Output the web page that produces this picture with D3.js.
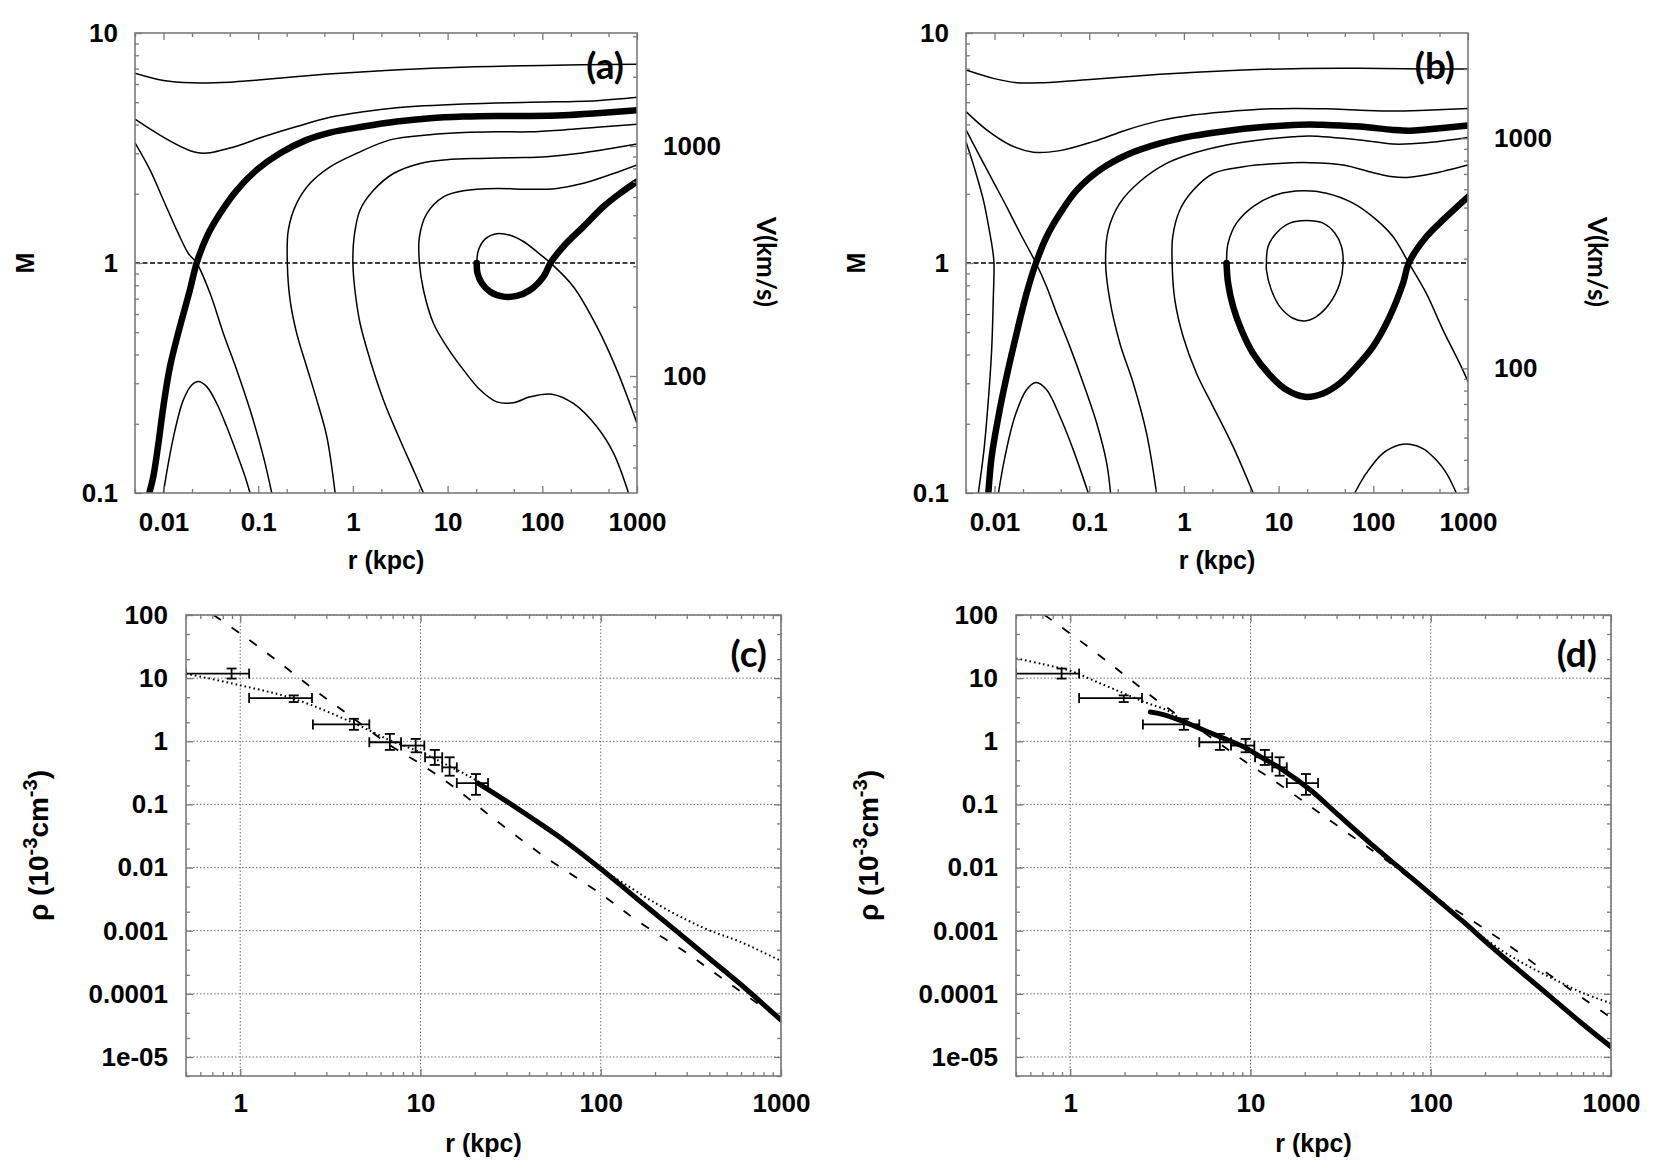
<!DOCTYPE html>
<html>
<head>
<meta charset="utf-8">
<script src="https://cdn.jsdelivr.net/npm/d3@7"></script>
<style>
  body { margin: 0; background: #fff; }
  svg { display: block; }
</style>
</head>
<body>
<svg id="fig" width="1662" height="1163"></svg>
<script>
// ---------- data: [r (kpc), M] ----------
// panel (a)
var aTop = [[0.005,6.68],[0.01,6.21],[0.02,6.07],[0.05,6.11],[0.1,6.25],[0.5,6.61],[2,6.86],[10,7.07],[100,7.23],[1000,7.31]];
var aSecond = [[0.005,4.22],[0.0224,3.02],[0.0504,3.16],[0.1135,3.54],[0.255,3.92],[0.574,4.30],[1.29,4.55],[2.9,4.73],[14.7,4.91],[74.3,5.0],[377,5.08],[1000,5.25]];
var aThickInner = [[0.00708,0.1],[0.00781,0.118],[0.00883,0.164],[0.00996,0.237],[0.0117,0.354],[0.0149,0.529],[0.019,0.763],[0.0224,1],[0.0286,1.30],[0.0395,1.64],[0.0593,2.07],[0.0964,2.54],[0.170,3.0],[0.325,3.43],[0.574,3.69],[1.29,3.92],[2.9,4.12],[6.53,4.26],[14.7,4.33],[33,4.36],[74.3,4.36],[167,4.39],[377,4.48],[1000,4.62]];
var aSepInner = [[0.005,3.33],[0.0072,2.54],[0.00996,1.88],[0.0138,1.39],[0.0183,1.10],[0.0224,1],[0.031,0.738],[0.0429,0.494],[0.0593,0.343],[0.082,0.230],[0.1135,0.144],[0.139,0.1]];
var aArch = [[0.00996,0.1],[0.01125,0.135],[0.01324,0.188],[0.0162,0.254],[0.0199,0.295],[0.0233,0.305],[0.0286,0.290],[0.0365,0.245],[0.0465,0.194],[0.0593,0.149],[0.0726,0.118],[0.082,0.1]];
var aMid1 = [[0.649,0.1],[0.53,0.176],[0.415,0.254],[0.325,0.354],[0.255,0.494],[0.217,0.691],[0.203,1],[0.208,1.39],[0.255,1.82],[0.353,2.22],[0.574,2.62],[1.10,3.0],[2.47,3.43],[6.53,3.61],[14.7,3.69],[33,3.72],[74.3,3.72],[167,3.79],[377,3.89],[1000,4.01]];
var aMid2 = [[5.56,0.1],[4.35,0.126],[3.15,0.170],[2.10,0.254],[1.52,0.379],[1.19,0.547],[1.05,0.763],[1.0,1],[1.03,1.30],[1.19,1.70],[1.65,2.07],[2.68,2.45],[5.12,2.71],[9.8,2.81],[22,2.85],[49.6,2.87],[111,2.90],[251,3.0],[565,3.16],[1000,3.29]];
var aWavy = [[813,0.1],[565,0.149],[377,0.194],[213,0.245],[126,0.269],[74.3,0.262],[49.6,0.247],[33,0.249],[22,0.281],[14.7,0.343],[9.8,0.433],[7.08,0.547],[5.56,0.763],[5.04,1],[5.04,1.30],[6.03,1.64],[9.04,1.94],[14.7,2.06],[33,2.11],[74.3,2.09],[142,2.11],[272,2.22],[565,2.45],[1000,2.67]];
var aSepOuter = [[20.3,1],[21.2,1.14],[24.9,1.27],[33,1.34],[45.7,1.32],[63.2,1.24],[87.4,1.12],[122,1],[213,0.789],[377,0.529],[612,0.343],[1000,0.201]];
var aThickOuter = [[20.3,1],[20.7,0.902],[23,0.816],[28.1,0.750],[38.9,0.714],[53.8,0.719],[74.3,0.763],[103,0.873],[122,1],[167,1.18],[272,1.44],[443,1.76],[664,2.01],[1000,2.26]];

// panel (b)
var bTop = [[0.005,6.90],[0.0097,6.35],[0.0171,6.08],[0.0328,6.08],[0.110,6.29],[0.557,6.61],[2.82,6.86],[14.2,7.0],[71.9,7.02],[363,6.97],[1000,6.97]];
var bSecond = [[0.005,4.55],[0.00827,3.79],[0.0146,3.26],[0.0257,3.03],[0.0491,3.08],[0.110,3.37],[0.248,3.79],[0.557,4.16],[1.25,4.40],[2.82,4.55],[6.33,4.66],[14.2,4.70],[32,4.68],[71.9,4.62],[162,4.58],[363,4.62],[1000,4.70]];
var bThickInner = [[0.00861,0.1],[0.00933,0.144],[0.011,0.215],[0.0134,0.32],[0.0171,0.494],[0.0218,0.738],[0.0274,1],[0.0355,1.30],[0.0491,1.64],[0.0736,2.07],[0.130,2.54],[0.248,2.95],[0.557,3.31],[1.25,3.57],[2.82,3.75],[6.33,3.89],[14.2,3.98],[21.3,4.0],[32,3.98],[71.9,3.92],[162,3.79],[242,3.76],[363,3.81],[1000,3.96]];
var bSepInner = [[0.005,3.79],[0.00703,2.90],[0.0097,2.26],[0.0134,1.76],[0.0186,1.35],[0.0237,1.12],[0.0274,1],[0.0355,0.789],[0.0453,0.604],[0.0625,0.433],[0.0865,0.3],[0.120,0.201],[0.153,0.135],[0.168,0.1]];
var bFarLeft = [[0.005,3.37],[0.00622,2.54],[0.00762,1.88],[0.00881,1.39],[0.00955,1.14],[0.00987,1],[0.0097,0.691],[0.00933,0.419],[0.00861,0.254],[0.00774,0.154],[0.00675,0.1]];
var bArch = [[0.011,0.1],[0.0129,0.144],[0.0164,0.215],[0.0218,0.281],[0.0274,0.302],[0.0355,0.281],[0.0491,0.215],[0.0679,0.154],[0.0977,0.1]];
var bMid1 = [[0.514,0.1],[0.403,0.182],[0.292,0.3],[0.211,0.447],[0.165,0.691],[0.149,1],[0.159,1.39],[0.211,1.82],[0.343,2.26],[0.655,2.71],[1.25,3.0],[2.82,3.26],[6.33,3.43],[14.2,3.54],[21.3,3.57],[71.9,3.43],[162,3.29],[363,3.33],[1000,3.51]];
var bMid2 = [[5.38,0.1],[3.31,0.159],[2.04,0.237],[1.36,0.331],[0.982,0.478],[0.802,0.691],[0.751,1],[0.762,1.30],[0.906,1.70],[1.25,2.07],[2.04,2.45],[4.22,2.62],[10.0,2.71],[21.3,2.73],[48,2.67],[108,2.45],[162,2.37],[242,2.36],[427,2.45],[1000,2.67]];
var bSepOuter = [[2.82,1],[2.93,1.22],[3.59,1.49],[5.38,1.76],[9.48,1.98],[18.2,2.06],[32,2.01],[61.1,1.82],[108,1.54],[162,1.30],[237,1],[363,0.738],[545,0.511],[817,0.366],[1000,0.305]];
var bOval = [[7.44,1],[7.74,1.18],[9.48,1.35],[13.1,1.49],[19.7,1.53],[29.5,1.49],[39.2,1.35],[46.1,1.18],[48,1],[44.3,0.816],[34.7,0.668],[25.1,0.585],[18.9,0.560],[14.2,0.575],[10.3,0.646],[8.39,0.763],[7.44,0.932],[7.44,1]];
var bThickOuter = [[2.82,1],[2.93,0.816],[3.31,0.646],[4.05,0.511],[5.38,0.404],[8.07,0.326],[12.1,0.281],[18.9,0.262],[29.5,0.271],[44.3,0.3],[66.2,0.354],[99.3,0.433],[149,0.585],[206,0.816],[237,1],[363,1.30],[545,1.54],[1000,1.94]];
var bArchRight = [[63.7,0.1],[84.5,0.122],[127,0.149],[190,0.162],[242,0.163],[335,0.156],[463,0.139],[591,0.122],[753,0.1]];

// sound speed that links the M axis to the V axis (km/s)
var soundSpeedA = 310, soundSpeedB = 287;

// ---------- data: [r (kpc), rho (1e-3 cm^-3)] ----------
var cDashed = [[0.71,100],[1,51],[1.54,20.5],[2.53,6.8],[4.15,2.42],[6.81,0.855],[10,0.438],[15.4,0.186],[25,0.062],[46.4,0.0165],[100,0.00383],[161,0.00141],[299,0.000445],[491,0.000162],[1000,3.84e-5]];
var cDotted = [[0.5,11.8],[1,7.7],[1.98,4.72],[4.15,2.01],[6.81,1.03],[10,0.67],[14.3,0.411],[20.8,0.232],[34,0.0893],[63.2,0.0264],[100,0.00957],[133,0.00573],[193,0.00293],[297,0.0015],[405,0.001],[588,0.000676],[1000,0.000333]];
var cSolid = [[20.8,0.218],[28.3,0.125],[41,0.062],[63.2,0.0264],[100,0.00957],[161,0.00311],[264,0.000976],[407,0.00035],[628,0.000125],[1000,3.84e-5]];

var dDashed = [[0.72,100],[1.23,32.8],[2.05,10.6],[3.24,3.85],[5.55,1.36],[9.03,0.509],[15.1,0.191],[25.1,0.0676],[41.9,0.0239],[55.5,0.0137],[100,0.0038],[176,0.00135],[293,0.0005],[501,0.000165],[1000,4.2e-5]];
var dDotted = [[0.5,20.6],[0.699,16.7],[1,13.1],[1.36,9.07],[1.94,5.9],[2.64,4.09],[3.41,3.13],[4.19,2.2],[6.99,1.15],[11.7,0.56],[21.5,0.172],[46.4,0.0243],[100,0.0039],[167,0.00112],[215,0.000644],[278,0.000394],[378,0.000242],[514,0.000157],[699,0.000103],[1000,7.1e-5]];
var dSolid = [[2.78,2.9],[3.24,2.67],[4.19,2.08],[5.41,1.53],[6.99,1.13],[9.03,0.832],[11.7,0.542],[15.1,0.353],[21.5,0.169],[30.8,0.0676],[46.4,0.0239],[69.9,0.00896],[100,0.0038],[151,0.0014],[215,0.00057],[308,0.000238],[464,8.9e-5],[699,3.3e-5],[1000,1.45e-5]];

// observed density profile with error bars
var obsR     = [0.895, 1.98, 4.27, 6.76, 9.4, 12.0, 14.5, 20.3];
var obsRLow  = [0.5, 1.12, 2.53, 5.2, 7.8, 10.6, 13.2, 15.9];
var obsRHigh = [1.12, 2.5, 5.2, 7.8, 10.5, 13.2, 15.9, 23.7];
var obsRho     = [11.8, 4.84, 1.85, 0.966, 0.855, 0.558, 0.386, 0.218];
var obsRhoLow  = [9.84, 4.18, 1.52, 0.73, 0.67, 0.422, 0.285, 0.142];
var obsRhoHigh = [14.2, 5.33, 2.27, 1.31, 1.09, 0.73, 0.558, 0.303];

// tick labels
var rTicksTop = [0.01, 0.1, 1, 10, 100, 1000];
var rLabelsTop = ["0.01", "0.1", "1", "10", "100", "1000"];
var mTicks = [0.1, 1, 10];
var mLabels = ["0.1", "1", "10"];
var vTicks = [100, 1000];
var vLabels = ["100", "1000"];
var rTicksBottom = [1, 10, 100, 1000];
var rLabelsBottom = ["1", "10", "100", "1000"];
var rhoTicks = [1e-5, 1e-4, 1e-3, 0.01, 0.1, 1, 10, 100];
var rhoLabels = ["1e-05", "0.0001", "0.001", "0.01", "0.1", "1", "10", "100"];

// ---------- drawing ----------
var svg = d3.select("#fig");
var frameColor = "#7a7a7a";
var tickFont = "'Liberation Sans', Arial, sans-serif";
var tagFont = "Lato, 'Open Sans', sans-serif";

svg.append("rect").attr("width", 1662).attr("height", 1163).attr("fill", "#fff");

function mantissa(v) {
    return Math.round(v / Math.pow(10, Math.floor(Math.log10(v) + 1e-9)));
}

function makePanel(id, box, xDomain, yDomain) {
    var x = d3.scaleLog().domain(xDomain).range([box.x0, box.x1]);
    var y = d3.scaleLog().domain(yDomain).range([box.y1, box.y0]);
    var root = svg.append("g");
    svg.append("clipPath").attr("id", "clip-" + id)
        .append("rect")
        .attr("x", box.x0).attr("y", box.y0)
        .attr("width", box.x1 - box.x0).attr("height", box.y1 - box.y0);
    var under = root.append("g");
    var plot = root.append("g").attr("clip-path", "url(#clip-" + id + ")");
    return {x: x, y: y, root: root, under: under, plot: plot, box: box};
}

function styleAxis(g) {
    g.select(".domain").remove();
    g.selectAll(".tick line").attr("stroke", frameColor).attr("stroke-width", 1.3);
    g.selectAll(".tick text").attr("fill", "#000");
    g.attr("font-family", tickFont).attr("font-size", 26).attr("font-weight", "bold");
}

function tickAxis(p, axisFn, scale, values, labels, size, pad, pos) {
    var ax = axisFn(scale).tickValues(values).tickSize(-size).tickPadding(pad)
        .tickFormat(labels ? function (d, i) { return labels[i]; } : "");
    var g = p.root.append("g").attr("transform", pos).call(ax);
    styleAxis(g);
    return g;
}

function frame(p) {
    var b = p.box;
    p.root.append("rect")
        .attr("x", b.x0).attr("y", b.y0)
        .attr("width", b.x1 - b.x0).attr("height", b.y1 - b.y0)
        .attr("fill", "none").attr("stroke", frameColor).attr("stroke-width", 1.6);
}

function drawCurve(p, pts, w, dash, cap) {
    var line = d3.line()
        .x(function (d) { return p.x(d[0]); })
        .y(function (d) { return p.y(d[1]); })
        .curve(d3.curveCatmullRom.alpha(0.5));
    p.plot.append("path").datum(pts)
        .attr("d", line)
        .attr("fill", "none")
        .attr("stroke", "#000")
        .attr("stroke-width", w)
        .attr("stroke-dasharray", dash || null)
        .attr("stroke-linecap", cap || "butt")
        .attr("stroke-linejoin", "round");
}

function tag(p, text, dx, dy) {
    p.root.append("text")
        .attr("x", p.box.x1 - dx).attr("y", p.box.y0 + dy)
        .attr("text-anchor", "end")
        .attr("font-family", tagFont).attr("font-size", 37).attr("font-weight", "bold")
        .text(text);
}

// ---- top panels: M vs r ----
function machPanel(id, box, cs, thin, thick, label) {
    var p = makePanel(id, box, [0.005, 1000], [0.1, 10]);
    var v = d3.scaleLog().domain([0.1 * cs, 10 * cs]).range([box.y1, box.y0]);
    var b = box;

    var xMinor = p.x.ticks().filter(function (d) { var m = mantissa(d); return m === 2 || m === 5; });
    var yMinor = p.y.ticks().filter(function (d) { return mantissa(d) !== 1; });
    var vMinor = v.ticks().filter(function (d) { return mantissa(d) !== 1; });

    tickAxis(p, d3.axisBottom, p.x, rTicksTop, rLabelsTop, 7, 20, "translate(0," + b.y1 + ")");
    tickAxis(p, d3.axisBottom, p.x, xMinor, null, 4, 0, "translate(0," + b.y1 + ")");
    tickAxis(p, d3.axisTop, p.x, rTicksTop, null, 7, 0, "translate(0," + b.y0 + ")");
    tickAxis(p, d3.axisTop, p.x, xMinor, null, 4, 0, "translate(0," + b.y0 + ")");
    tickAxis(p, d3.axisLeft, p.y, mTicks, mLabels, 7, 17, "translate(" + b.x0 + ",0)");
    tickAxis(p, d3.axisLeft, p.y, yMinor, null, 4, 0, "translate(" + b.x0 + ",0)");
    tickAxis(p, d3.axisRight, v, vTicks, vLabels, 7, 26, "translate(" + b.x1 + ",0)");
    tickAxis(p, d3.axisRight, v, vMinor, null, 4, 0, "translate(" + b.x1 + ",0)");

    // sonic line M = 1
    p.plot.append("line")
        .attr("x1", b.x0).attr("x2", b.x1)
        .attr("y1", p.y(1)).attr("y2", p.y(1))
        .attr("stroke", "#000").attr("stroke-width", 1.5).attr("stroke-dasharray", "5,2.5");

    thin.forEach(function (c) { drawCurve(p, c, 1.5); });
    thick.forEach(function (c) { drawCurve(p, c, 6.5, null, "round"); });
    frame(p);

    p.root.append("text")
        .attr("transform", "translate(" + (b.x0 - 110) + "," + ((b.y0 + b.y1) / 2) + ") rotate(-90)")
        .attr("text-anchor", "middle").attr("dy", "0.36em")
        .attr("font-family", tickFont).attr("font-size", 25).attr("font-weight", "bold")
        .text("M");
    p.root.append("text")
        .attr("transform", "translate(" + (b.x1 + 120) + "," + 262 + ") rotate(90)")
        .attr("text-anchor", "middle")
        .attr("font-family", tagFont).attr("font-size", 26).attr("font-weight", "bold")
        .text("V(km/s)");
    p.root.append("text")
        .attr("x", (b.x0 + b.x1) / 2).attr("y", b.y1 + 76)
        .attr("text-anchor", "middle")
        .attr("font-family", tickFont).attr("font-size", 25).attr("font-weight", "bold")
        .text("r (kpc)");
    tag(p, label, 13, 46);
}

machPanel("a", {x0: 135, x1: 637, y0: 33, y1: 493}, soundSpeedA,
    [aTop, aSecond, aSepInner, aArch, aMid1, aMid2, aWavy, aSepOuter],
    [aThickInner, aThickOuter], "(a)");
machPanel("b", {x0: 966, x1: 1468, y0: 33, y1: 493}, soundSpeedB,
    [bTop, bSecond, bSepInner, bFarLeft, bArch, bMid1, bMid2, bSepOuter, bOval, bArchRight],
    [bThickInner, bThickOuter], "(b)");

// ---- bottom panels: density vs r ----
function densityPanel(id, box, dashed, dotted, solid, label) {
    var p = makePanel(id, box, [0.5, 1000], [5e-6, 100]);
    var b = box;

    var xMinor = p.x.ticks().filter(function (d) { return mantissa(d) !== 1; });
    var yMinor = p.y.ticks().filter(function (d) { var m = mantissa(d); return m === 2 || m === 5; });

    // grid
    p.under.selectAll("line.gx").data(rTicksBottom).enter().append("line")
        .attr("x1", function (d) { return p.x(d); }).attr("x2", function (d) { return p.x(d); })
        .attr("y1", b.y0).attr("y2", b.y1)
        .attr("stroke", "#6d6d6d").attr("stroke-width", 1).attr("stroke-dasharray", "1.5,2");
    p.under.selectAll("line.gy").data(rhoTicks).enter().append("line")
        .attr("y1", function (d) { return p.y(d); }).attr("y2", function (d) { return p.y(d); })
        .attr("x1", b.x0).attr("x2", b.x1)
        .attr("stroke", "#6d6d6d").attr("stroke-width", 1).attr("stroke-dasharray", "1.5,2");

    tickAxis(p, d3.axisBottom, p.x, rTicksBottom, rLabelsBottom, 7, 18, "translate(0," + b.y1 + ")");
    tickAxis(p, d3.axisBottom, p.x, xMinor, null, 4, 0, "translate(0," + b.y1 + ")");
    tickAxis(p, d3.axisTop, p.x, rTicksBottom, null, 7, 0, "translate(0," + b.y0 + ")");
    tickAxis(p, d3.axisTop, p.x, xMinor, null, 4, 0, "translate(0," + b.y0 + ")");
    tickAxis(p, d3.axisLeft, p.y, rhoTicks, rhoLabels, 7, 18, "translate(" + b.x0 + ",0)");
    tickAxis(p, d3.axisLeft, p.y, yMinor, null, 4, 0, "translate(" + b.x0 + ",0)");
    tickAxis(p, d3.axisRight, p.y, rhoTicks, null, 7, 0, "translate(" + b.x1 + ",0)");
    tickAxis(p, d3.axisRight, p.y, yMinor, null, 4, 0, "translate(" + b.x1 + ",0)");

    drawCurve(p, dashed, 1.8, "9,13");
    drawCurve(p, dotted, 2, "1.6,3");
    drawCurve(p, solid, 5, null, "round");

    // error bars
    var cap = 5;
    var eb = p.plot.append("g").attr("stroke", "#000").attr("stroke-width", 1.8);
    obsR.forEach(function (r, i) {
        var cx = p.x(r), cy = p.y(obsRho[i]);
        var xl = p.x(obsRLow[i]), xh = p.x(obsRHigh[i]);
        var yl = p.y(obsRhoLow[i]), yh = p.y(obsRhoHigh[i]);
        eb.append("line").attr("x1", xl).attr("x2", xh).attr("y1", cy).attr("y2", cy);
        eb.append("line").attr("x1", xl).attr("x2", xl).attr("y1", cy - cap).attr("y2", cy + cap);
        eb.append("line").attr("x1", xh).attr("x2", xh).attr("y1", cy - cap).attr("y2", cy + cap);
        eb.append("line").attr("x1", cx).attr("x2", cx).attr("y1", yl).attr("y2", yh);
        eb.append("line").attr("x1", cx - cap).attr("x2", cx + cap).attr("y1", yl).attr("y2", yl);
        eb.append("line").attr("x1", cx - cap).attr("x2", cx + cap).attr("y1", yh).attr("y2", yh);
    });
    frame(p);

    var yl = p.root.append("text")
        .attr("transform", "translate(" + (b.x0 - 138) + "," + ((b.y0 + b.y1) / 2) + ") rotate(-90)")
        .attr("text-anchor", "middle")
        .attr("font-family", tickFont).attr("font-size", 28).attr("font-weight", "bold");
    yl.append("tspan").text("\u03c1 (10");
    yl.append("tspan").attr("dy", -11).attr("font-size", 20).text("-3");
    yl.append("tspan").attr("dy", 11).text("cm");
    yl.append("tspan").attr("dy", -11).attr("font-size", 20).text("-3");
    yl.append("tspan").attr("dy", 11).text(")");

    p.root.append("text")
        .attr("x", (b.x0 + b.x1) / 2).attr("y", b.y1 + 76)
        .attr("text-anchor", "middle")
        .attr("font-family", tickFont).attr("font-size", 25).attr("font-weight", "bold")
        .text("r (kpc)");
    tag(p, label, 14, 52);
}

densityPanel("c", {x0: 186, x1: 781, y0: 615, y1: 1076}, cDashed, cDotted, cSolid, "(c)");
densityPanel("d", {x0: 1016, x1: 1611, y0: 615, y1: 1076}, dDashed, dDotted, dSolid, "(d)");
</script>
</body>
</html>
